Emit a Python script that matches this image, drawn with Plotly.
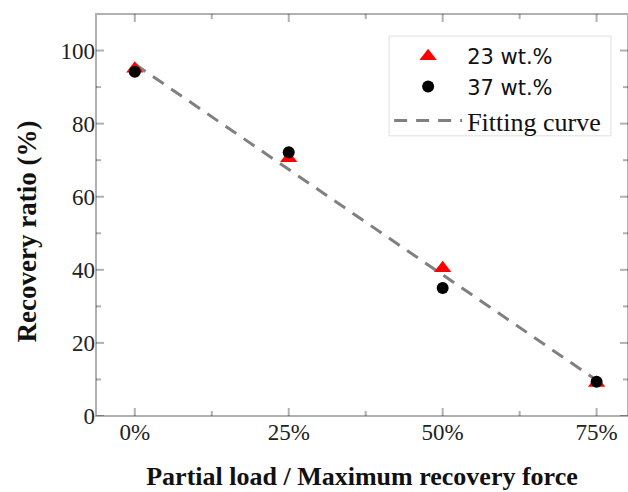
import plotly.graph_objects as go

# Data
load_pct = [0, 25, 50, 75]
ratio_23 = [95.0, 70.5, 40.4, 9.0]
ratio_37 = [94.2, 72.2, 35.0, 9.4]
fit_x = [0, 75]
fit_y = [96.3, 9.8]

x_ticks = [0, 25, 50, 75]
x_labels = ["0%", "25%", "50%", "75%"]
x_minor = [12.5, 37.5, 62.5]
y_ticks = [0, 20, 40, 60, 80, 100]
y_minor = [10, 30, 50, 70, 90]
x_range = [-6.3, 80.1]
y_range = [0, 110]

serif = "Liberation Serif"
sans = "DejaVu Sans"

fig = go.Figure()
fig.add_trace(go.Scatter(
    x=fit_x, y=fit_y, mode="lines", name="Fitting curve",
    line=dict(color="#808080", width=3, dash="13px,9px"),
    legend="legend2",
))
fig.add_trace(go.Scatter(
    x=load_pct, y=ratio_23, mode="markers", name="23 wt.%",
    marker=dict(symbol="triangle-up", size=15, color="#ff0000"),
    legendrank=1,
))
fig.add_trace(go.Scatter(
    x=load_pct, y=ratio_37, mode="markers", name="37 wt.%",
    marker=dict(symbol="circle", size=12, color="#000000"),
    legendrank=2,
))

# frame and inward tick marks (drawn as shapes from the tick arrays)
shapes = [dict(type="rect", xref="paper", yref="paper", x0=0, x1=1, y0=0, y1=1,
               line=dict(color="black", width=2), fillcolor="rgba(0,0,0,0)", layer="above")]
for vals, ln in ((x_ticks, 8), (x_minor, 5)):
    for v in vals:
        for anchor, sign in ((y_range[0], 1), (y_range[1], -1)):
            shapes.append(dict(type="line", xref="x", yref="y", x0=v, x1=v,
                               ysizemode="pixel", yanchor=anchor, y0=0, y1=sign * ln,
                               line=dict(color="black", width=2), layer="above"))
for vals, ln in ((y_ticks, 8), (y_minor, 5)):
    for v in vals:
        for anchor, sign in ((x_range[0], 1), (x_range[1], -1)):
            shapes.append(dict(type="line", xref="x", yref="y", y0=v, y1=v,
                               xsizemode="pixel", xanchor=anchor, x0=0, x1=sign * ln,
                               line=dict(color="black", width=2), layer="above"))
# legend frame
shapes.append(dict(type="rect", xref="paper", yref="paper",
                   x0=0.551, x1=0.968, y0=0.697, y1=0.945,
                   line=dict(color="#999", width=1), fillcolor="rgba(0,0,0,0)",
                   layer="above"))

fig.update_layout(
    template="simple_white",
    width=628, height=492,
    margin=dict(l=96, r=0, t=14, b=76),
    plot_bgcolor="white", paper_bgcolor="white",
    xaxis=dict(
        showline=False, ticks="", showgrid=False, zeroline=False,
        range=x_range, tickmode="array", tickvals=x_ticks, ticktext=x_labels,
        tickfont=dict(family=serif, size=23, color="#222"),
        title=dict(text="<b>Partial load / Maximum recovery force</b>",
                   font=dict(family=serif, size=26, color="#111"), standoff=22),
    ),
    yaxis=dict(
        showline=False, ticks="", showgrid=False, zeroline=False,
        range=y_range, tickmode="array", tickvals=y_ticks, ticksuffix=" ",
        tickfont=dict(family=serif, size=23, color="#222"),
    ),
    annotations=[dict(
        text="<b>Recovery ratio (%)</b>", textangle=-90,
        xref="paper", yref="paper", x=-0.128, y=0.459,
        xanchor="center", yanchor="middle", showarrow=False,
        font=dict(family=serif, size=27, color="#111"),
    )],
    shapes=shapes,
    legend=dict(
        x=0.551, y=0.945, xanchor="left", yanchor="top",
        borderwidth=0, bgcolor="rgba(0,0,0,0)",
        font=dict(family=sans, size=21, color="#111"),
        tracegroupgap=0, itemwidth=68,
    ),
    legend2=dict(
        x=0.551, y=0.793, xanchor="left", yanchor="top",
        borderwidth=0, bgcolor="rgba(0,0,0,0)",
        font=dict(family=serif, size=26, color="#111"),
        tracegroupgap=0, itemwidth=68,
    ),
    showlegend=True,
)

fig.write_html("out.html")
